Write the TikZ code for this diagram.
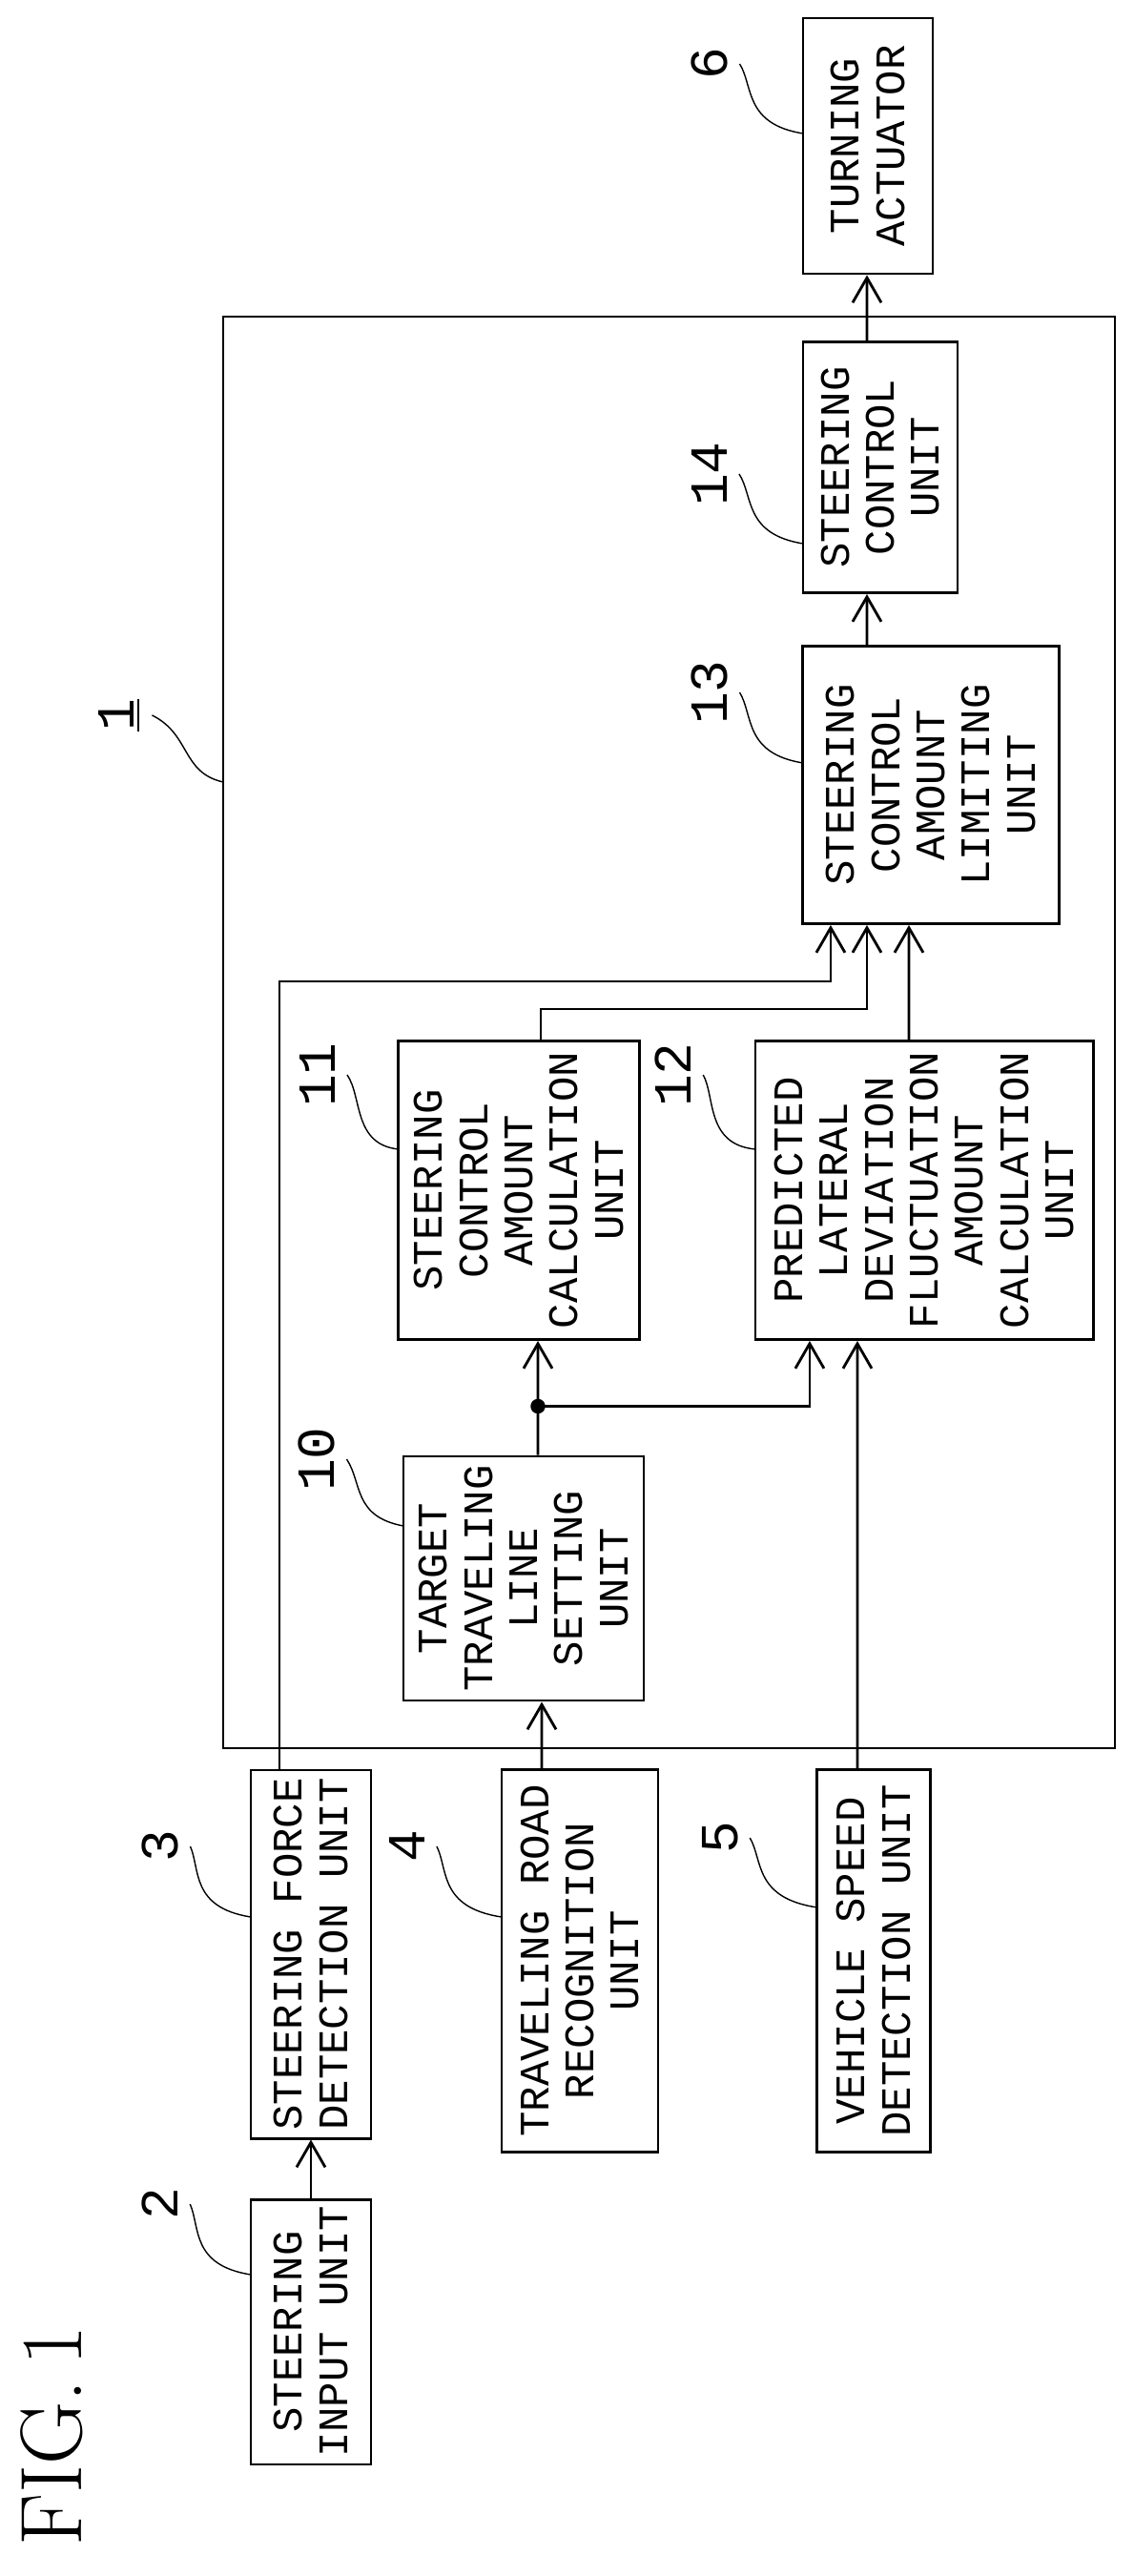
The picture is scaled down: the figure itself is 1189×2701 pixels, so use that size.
\documentclass[tikz,border=0pt]{standalone}
\usepackage{fontspec}
\setmonofont{Liberation Mono}
\usetikzlibrary{arrows.meta,positioning}
\tikzset{
  box/.style={draw, thick, rotate=90, align=center, inner sep=2pt,
    font=\fontsize{12.5}{13.5}\selectfont\ttfamily},
  arr/.style={thick, -{Straight Barb[length=2.6mm,width=3mm]}},
  lead/.style={thin},
  num/.style={rotate=90, font=\fontsize{16}{18}\selectfont\ttfamily}
}
\begin{document}
\begin{tikzpicture}[x=0.01cm, y=-0.01cm]
\useasboundingbox (0,0) rectangle (1189,2701);

% controller outline
\draw[thick] (234,332) rectangle (1169,1833);

% blocks
\node[box, minimum width=26.8mm, minimum height=13.6mm] (b6) at (910,153) {TURNING\\ACTUATOR};
\node[box, minimum width=26.3mm, minimum height=16.2mm] (b14) at (923,490) {STEERING\\CONTROL\\UNIT};
\node[box, minimum width=29.1mm, minimum height=26.9mm] (b13) at (976,823) {STEERING\\CONTROL\\AMOUNT\\LIMITING\\UNIT};
\node[box, minimum width=31.3mm, minimum height=25.3mm] (b11) at (544,1248) {STEERING\\CONTROL\\AMOUNT\\CALCULATION\\UNIT};
\node[box, minimum width=31.3mm, minimum height=35.4mm] (b12) at (969,1248) {PREDICTED\\LATERAL\\DEVIATION\\FLUCTUATION\\AMOUNT\\CALCULATION\\UNIT};
\node[box, minimum width=25.6mm, minimum height=25.2mm] (b10) at (549,1655) {TARGET\\TRAVELING\\LINE\\SETTING\\UNIT};
\node[box, minimum width=38.6mm, minimum height=12.6mm] (b3) at (326,2049) {STEERING FORCE\\DETECTION UNIT};
\node[box, minimum width=26.8mm, minimum height=12.6mm] (b2) at (326,2445) {STEERING\\INPUT UNIT};
\node[box, minimum width=40.1mm, minimum height=16.4mm] (b4) at (608,2056) {TRAVELING ROAD\\RECOGNITION\\UNIT};
\node[box, minimum width=40.1mm, minimum height=11.9mm] (b5) at (916,2056) {VEHICLE SPEED\\DETECTION UNIT};

% connectors
\draw[arr] (b2.east) -- (b3.west);
\coordinate (f) at ([xshift=-10.5mm]b13.west);
\draw[arr] ([xshift=-3.3mm]b3.east) |- ([yshift=-5.9mm]f) -- (f);
\draw[arr] ([xshift=-4mm]b4.east) -- ([xshift=1.9mm]b10.west);
\coordinate (j) at ([xshift=1.5mm,yshift=5.1mm]b10.east);
\draw[arr] ([xshift=1.5mm]b10.east) -- ([xshift=2mm]b11.west);
\draw[arr] (j) -| ([xshift=-12mm]b12.west);
\fill (j) circle (2.2pt);
\draw[arr] ([xshift=-1.7mm]b5.east) -- ([xshift=-7mm]b12.west);
\coordinate (g) at ([xshift=-6.7mm]b13.west);
\draw[arr] ([xshift=2.3mm]b11.east) |- ([yshift=-8.8mm]g) -- (g);
\draw[arr] ([xshift=-1.6mm]b12.east) -- ([xshift=-2.3mm]b13.west);
\draw[arr] ([xshift=-6.7mm]b13.east) -- ([xshift=-1.4mm]b14.west);
\draw[arr] ([xshift=-1.4mm]b14.east) -- ([xshift=-0.1mm]b6.west);

% reference numerals
\node[num] (n6) at (744,67) {6};
\draw[lead] (n6.south) .. controls (790,90) and (780,130) .. (842,140);
\node[num] (n14) at (744,497) {14};
\draw[lead] (n14.south) .. controls (790,520) and (780,560) .. (842,570);
\node[num] (n13) at (744,726) {13};
\draw[lead] (n13.south) .. controls (790,750) and (780,790) .. (842,800);
\node[num] (n11) at (333,1127) {11};
\draw[lead] (n11.south) .. controls (380,1150) and (370,1200) .. (418,1205);
\node[num] (n12) at (706,1127) {12};
\draw[lead] (n12.south) .. controls (750,1150) and (740,1200) .. (792,1205);
\node[num] (n10) at (332,1530) {10};
\draw[lead] (n10.south) .. controls (380,1555) and (370,1590) .. (423,1600);
\node[num] (n3) at (168,1936) {3};
\draw[lead] (n3.south) .. controls (210,1960) and (200,2000) .. (263,2010);
\node[num] (n2) at (168,2311) {2};
\draw[lead] (n2.south) .. controls (210,2335) and (200,2375) .. (263,2385);
\node[num] (n4) at (427,1936) {4};
\draw[lead] (n4.south) .. controls (470,1960) and (460,2000) .. (526,2010);
\node[num] (n5) at (755,1927) {5};
\draw[lead] (n5.south) .. controls (800,1950) and (790,1990) .. (857,2000);
\node[num] (n1) at (125,750) {\underline{1}};
\draw[lead] (n1.south) .. controls (200,770) and (190,810) .. (234,820);

% figure title
\node[rotate=90, font=\fontsize{26}{30}\selectfont\rmfamily] (fig) at (54,2554) {FIG.\,1};
\end{tikzpicture}
\end{document}
